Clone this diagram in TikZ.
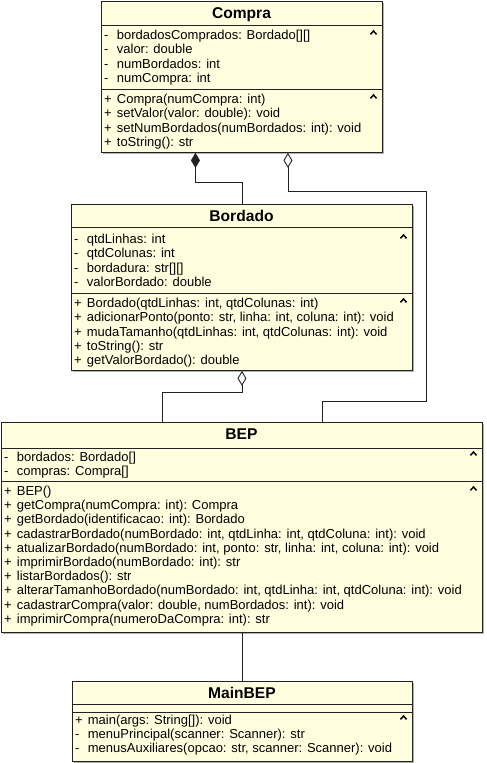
\documentclass[tikz,border=0pt]{standalone}
\usepackage{fontspec}
\setmainfont{Liberation Sans}
\usepackage{tikz}
\usetikzlibrary{arrows.meta,
                positioning,
                shadows}

\definecolor{umlfill}{HTML}{FFFFE0}
\definecolor{umlline}{HTML}{222222}
\newcommand{\umlvis}[1]{\makebox[12.7pt][l]{#1}}

\begin{document}
\begin{tikzpicture}[x=1pt, y=-1pt,
    cls/.style = {draw=umlline, line width=0.9pt, fill=umlfill, anchor=north west, inner sep=0pt,
                  drop shadow={shadow xshift=1.5pt, shadow yshift=-1.5pt, opacity=0.3, fill=black}},
    ttl/.style = {font=\fontsize{15.6}{18}\selectfont\bfseries, anchor=base, inner sep=0pt},
    row/.style = {font=\fontsize{13}{15}\selectfont, anchor=base west, inner sep=0pt},
    sep/.style = {draw=umlline, line width=0.9pt},
    chev/.style = {line width=1.5pt, line join=miter},
    link/.style = {draw=umlline, line width=0.9pt},
    comp/.style = {{Diamond[length=15pt, width=9pt]}-},
    aggr/.style = {{Diamond[open, length=15pt, width=9pt]}-}]

\useasboundingbox (0,0) rectangle (487,763);

% classes
\node[cls, minimum width=281pt, minimum height=151pt] (compra) at (101,1) {};
\node[cls, minimum width=341pt, minimum height=166pt] (bordado) at (71,204) {};
\node[cls, minimum width=481pt, minimum height=210pt] (bep) at (1,422) {};
\node[cls, minimum width=340pt, minimum height=80pt] (mainbep) at (72,681) {};

\node[ttl] (compra-n) at (241.5,18.3) {Compra};
\node[ttl] (bordado-n) at (241.5,221.7) {Bordado};
\node[ttl] (bep-n) at (241.5,439.3) {BEP};
\node[ttl] (mainbep-n) at (242,698.3) {MainBEP};

\draw[sep] (101,25) -- (382,25);
\draw[sep] (101,89) -- (382,89);
\draw[sep] (71,227) -- (412,227);
\draw[sep] (71,293) -- (412,293);
\draw[sep] (1,448) -- (482,448);
\draw[sep] (1,481) -- (482,481);
\draw[sep] (72,704) -- (412,704);
\draw[sep] (72,712) -- (412,712);

% Compra
\foreach \t [count=\i from 0] in {bordadosComprados: Bordado[][], valor: double, numBordados: int, numCompra: int}
    \node[row] (compra-a\i) at (104, {39.5+14.3*\i}) {\umlvis{-}\t};
\foreach \t [count=\i from 0] in {Compra(numCompra: int), setValor(valor: double): void,
        setNumBordados(numBordados: int): void, toString(): str}
    \node[row] (compra-m\i) at (104, {103.5+14.3*\i}) {\umlvis{+}\t};

% Bordado
\foreach \t [count=\i from 0] in {qtdLinhas: int, qtdColunas: int, bordadura: str[][], valorBordado: double}
    \node[row] (bordado-a\i) at (74, {243.5+14.3*\i}) {\umlvis{-}\t};
\foreach \t [count=\i from 0] in {{Bordado(qtdLinhas: int, qtdColunas: int)},
        {adicionarPonto(ponto: str, linha: int, coluna: int): void},
        {mudaTamanho(qtdLinhas: int, qtdColunas: int): void}, toString(): str, getValorBordado(): double}
    \node[row] (bordado-m\i) at (74, {307.5+14.3*\i}) {\umlvis{+}\t};

% BEP
\foreach \t [count=\i from 0] in {bordados: Bordado[], compras: Compra[]}
    \node[row] (bep-a\i) at (4, {461+14.3*\i}) {\umlvis{-}\t};
\foreach \t [count=\i from 0] in {BEP(), getCompra(numCompra: int): Compra, getBordado(identificacao: int): Bordado,
        {cadastrarBordado(numBordado: int, qtdLinha: int, qtdColuna: int): void},
        {atualizarBordado(numBordado: int, ponto: str, linha: int, coluna: int): void},
        imprimirBordado(numBordado: int): str, listarBordados(): str,
        {alterarTamanhoBordado(numBordado: int, qtdLinha: int, qtdColuna: int): void},
        {cadastrarCompra(valor: double, numBordados: int): void},
        imprimirCompra(numeroDaCompra: int): str}
    \node[row] (bep-m\i) at (4, {495.5+14.2*\i}) {\umlvis{+}\t};

% MainBEP
\node[row] (mainbep-m0) at (75,724.5) {\umlvis{+}main(args: String[]): void};
\node[row] (mainbep-m1) at (75,738.7) {\umlvis{-}menuPrincipal(scanner: Scanner): str};
\node[row] (mainbep-m2) at (75,752.9) {\umlvis{-}menusAuxiliares(opcao: str, scanner: Scanner): void};

% collapse marks
\foreach \x/\y in {373.5/31, 373.5/95, 403.5/235, 403.5/299, 473.5/452, 473.5/487, 403.5/716}
    \draw[chev] (\x,\y) ++(-3,3.3) -- ++(3,-3.3) -- ++(3,3.3);

% relations
\draw[link, comp] ([xshift=-46.5pt]compra.south) |- ([yshift=22pt]bordado.north) -- (bordado.north);
\draw[link, aggr] ([xshift=46pt]compra.south) -- ++(0,39) -- ++(138.5,0)
    |- ([xshift=80pt, yshift=21pt]bep.north) -- ([xshift=80pt]bep.north);
\draw[link, aggr] (bordado.south) -- ++(0,21.5) -| ([xshift=-80pt]bep.north);
\draw[link] (bep.south) -- (bep.south |- mainbep.north);

\end{tikzpicture}
\end{document}
